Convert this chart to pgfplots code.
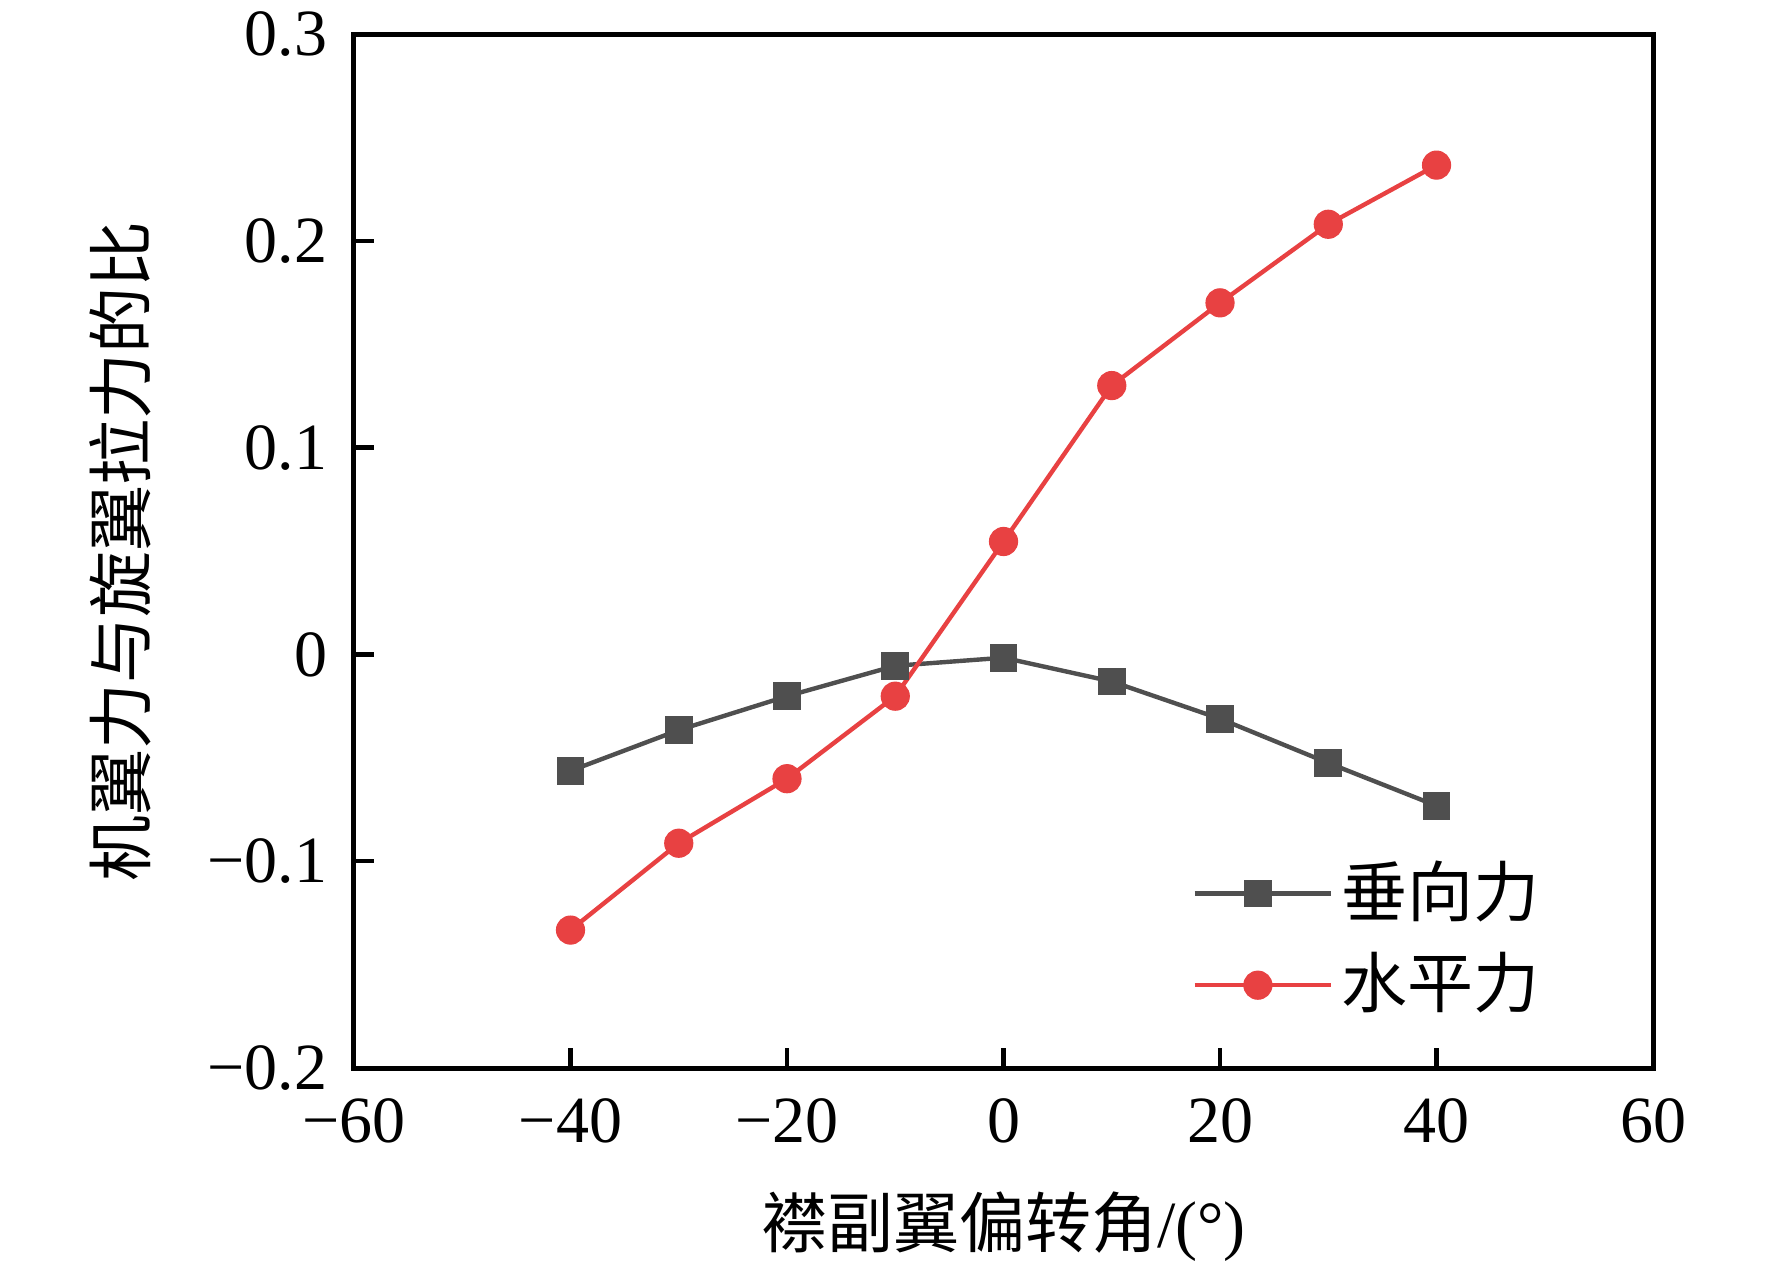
\documentclass[border=0pt]{standalone}
\usepackage{fontspec}
\setmainfont{Liberation Serif}
\newfontfamily\cjk{Noto Sans CJK SC}
\usepackage{pgfplots}
\pgfplotsset{compat=1.18}
\definecolor{cgray}{HTML}{4F4F4F}
\definecolor{cred}{HTML}{E84142}
\begin{document}
\fontsize{16.5pt}{19pt}\selectfont
\begin{tikzpicture}
\useasboundingbox (-88.5pt,-49.25pt) rectangle (354.5pt,267pt);
\begin{axis}[
  at={(0pt,0pt)}, anchor=south west,
  scale only axis,
  width=324.75pt, height=258.5pt,
  xmin=-60, xmax=60, ymin=-0.2, ymax=0.3,
  xtick={-60,-40,...,60},
  xticklabels={−60,−40,−20,0,20,40,60},
  ytick={-0.2,-0.1,0,0.1,0.2,0.3},
  yticklabels={−0.2,−0.1,0,0.1,0.2,0.3},
  tick align=inside,
  xtick pos=bottom, ytick pos=left,
  major tick length=5pt,
  tick style={line width=1.1pt, black},
  axis line style={line width=1.25pt},
  ticklabel style={font=\fontsize{16.5pt}{19pt}\selectfont},
  xticklabel style={yshift=-2pt},
  yticklabel style={xshift=-1pt},
  xlabel={{\cjk 襟副翼偏转角}/(°)},
  ylabel={\cjk 机翼力与旋翼拉力的比},
  label style={font=\fontsize{16.5pt}{19pt}\selectfont},
  xlabel style={yshift=-1pt},
  ylabel style={yshift=3pt},
  legend style={draw=none, fill=none, at={(0.645,0.209)}, anchor=north west,
    font=\fontsize{16.5pt}{19pt}\selectfont, row sep=2.6pt,
    cells={anchor=west}, inner sep=0pt},
  legend image code/.code={\draw[mark repeat=2,mark phase=2] plot coordinates {(0pt,0pt) (15.75pt,0pt) (31.5pt,0pt)};
    \path (0pt,0pt) -- (34pt,0pt);},
]
\addplot[cgray, line width=1.1pt, mark=square*, mark size=3.2pt,
  mark options={fill=cgray, draw=cgray, line width=0.5pt, rounded corners=0.5pt}]
  coordinates {(-40,-0.0563) (-30,-0.0366) (-20,-0.0202) (-10,-0.0055) (0,-0.0016)
  (10,-0.0131) (20,-0.0311) (30,-0.0525) (40,-0.0732)};
\addlegendentry{\cjk 垂向力}
\addplot[cred, line width=1.1pt, mark=*, mark size=3.5pt,
  mark options={fill=cred, draw=cred, line width=0.3pt}]
  coordinates {(-40,-0.1333) (-30,-0.0913) (-20,-0.0601) (-10,-0.0202) (0,0.0546)
  (10,0.130) (20,0.170) (30,0.208) (40,0.2366)};
\addlegendentry{\cjk 水平力}
\end{axis}
\end{tikzpicture}
\end{document}
